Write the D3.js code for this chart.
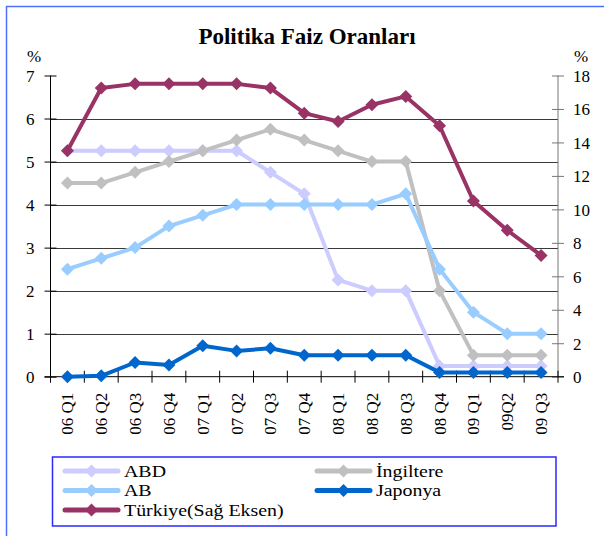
<!DOCTYPE html>
<html>
<head>
<meta charset="utf-8">
<script src="https://cdn.jsdelivr.net/npm/d3@7"></script>
</head>
<body style="margin:0;background:#fff;">
<div id="main"></div>
<script>
// categories (quarters)
var quarters = ['06 Q1', '06 Q2', '06 Q3', '06 Q4', '07 Q1', '07 Q2', '07 Q3', '07 Q4',
    '08 Q1', '08 Q2', '08 Q3', '08 Q4', '09 Q1', '09Q2', '09 Q3'];

// left axis series
var abd = [5.25, 5.25, 5.25, 5.25, 5.25, 5.25, 4.75, 4.25, 2.25, 2.0, 2.0, 0.25, 0.25, 0.25, 0.25];
var ingiltere = [4.5, 4.5, 4.75, 5.0, 5.25, 5.5, 5.75, 5.5, 5.25, 5.0, 5.0, 2.0, 0.5, 0.5, 0.5];
var ab = [2.5, 2.75, 3.0, 3.5, 3.75, 4.0, 4.0, 4.0, 4.0, 4.0, 4.25, 2.5, 1.5, 1.0, 1.0];
var japonya = [0, 0.02, 0.33, 0.27, 0.72, 0.6, 0.66, 0.5, 0.5, 0.5, 0.5, 0.1, 0.1, 0.1, 0.1];
// right axis series
var turkiye = [13.5, 17.25, 17.5, 17.5, 17.5, 17.5, 17.25, 15.75, 15.25, 16.25, 16.75, 15.0, 10.5, 8.75, 7.25];

var leftTicks = [0, 1, 2, 3, 4, 5, 6, 7];
var rightTicks = [0, 2, 4, 6, 8, 10, 12, 14, 16, 18];

var series = [
    { name: 'ABD', values: abd, color: '#ccccff', axis: 'L' },
    { name: 'İngiltere', values: ingiltere, color: '#c0c0c0', axis: 'L' },
    { name: 'AB', values: ab, color: '#99ccff', axis: 'L' },
    { name: 'Japonya', values: japonya, color: '#0066cc', axis: 'L' },
    { name: 'Türkiye(Sağ Eksen)', values: turkiye, color: '#993366', axis: 'R' }
];

var FONT = '"Liberation Serif", "Times New Roman", "DejaVu Serif", serif';
var W = 604, H = 536;
var plot = { left: 50.5, right: 558, top: 75.5, bottom: 376.7 };

var svg = d3.select('#main').append('svg')
    .attr('width', W)
    .attr('height', H)
    .style('font-family', FONT);

// outer frame (right and bottom edges fall outside the picture)
svg.append('rect')
    .attr('x', 6.5).attr('y', 6.5)
    .attr('width', 700).attr('height', 700)
    .attr('fill', 'none')
    .attr('stroke', '#4f6fff')
    .attr('stroke-width', 1.5);

var xScale = d3.scaleBand().domain(quarters).range([plot.left, plot.right]).padding(0);
var yL = d3.scaleLinear().domain([0, 7]).range([plot.bottom, plot.top]);
var yR = d3.scaleLinear().domain([0, 18]).range([plot.bottom, plot.top]);

function cx(d, i) { return xScale(quarters[i]) + xScale.bandwidth() / 2; }

function serif(sel, size) {
    sel.attr('font-family', null)
        .style('font-family', FONT)
        .style('font-size', size + 'px')
        .attr('fill', '#000');
}

// title
svg.append('text')
    .attr('x', 307).attr('y', 44)
    .attr('text-anchor', 'middle')
    .style('font-weight', 'bold')
    .text('Politika Faiz Oranları')
    .call(serif, 23);

// gridlines
svg.append('g').selectAll('line')
    .data(leftTicks.filter(function (t) { return t > 0 && t < 7; }))
    .enter().append('line')
    .attr('x1', plot.left).attr('x2', plot.right)
    .attr('y1', function (d) { return Math.round(yL(d)) + 0.5; })
    .attr('y2', function (d) { return Math.round(yL(d)) + 0.5; })
    .attr('stroke', '#3a3a3a')
    .attr('stroke-width', 1);

// left axis
var yAxisL = d3.axisLeft(yL).tickValues(leftTicks).tickFormat(d3.format('d')).tickSize(6).tickPadding(10);
var gL = svg.append('g')
    .attr('transform', 'translate(' + plot.left + ',0)')
    .call(yAxisL)
    .attr('font-family', null);
gL.selectAll('.tick line').attr('x1', -6).attr('x2', 6).attr('stroke', '#000');
gL.select('.domain').attr('d', 'M0,' + plot.top + 'V' + plot.bottom).attr('stroke', '#000');
gL.selectAll('text').call(serif, 17).attr('dy', '0.35em');

// right axis
var yAxisR = d3.axisRight(yR).tickValues(rightTicks).tickFormat(d3.format('d')).tickSize(6).tickPadding(9);
var gR = svg.append('g')
    .attr('transform', 'translate(' + plot.right + ',0)')
    .call(yAxisR)
    .attr('font-family', null);
gR.selectAll('.tick line').attr('x1', -6).attr('x2', 6).attr('stroke', '#777');
gR.select('.domain').attr('d', 'M0,' + plot.top + 'V' + plot.bottom).attr('stroke', '#777');
gR.selectAll('text').call(serif, 17).attr('dy', '0.35em');

// % labels
svg.append('text').attr('x', 34).attr('y', 62).attr('text-anchor', 'middle')
    .text('%').call(serif, 17);
svg.append('text').attr('x', 581).attr('y', 62).attr('text-anchor', 'middle')
    .text('%').call(serif, 17);

// x axis
var gX = svg.append('g').attr('transform', 'translate(0,' + plot.bottom + ')');
gX.append('line')
    .attr('x1', plot.left - 6).attr('x2', plot.right + 6)
    .attr('stroke', '#000');
var bounds = quarters.map(function (q) { return xScale(q); }).concat([plot.right]);
gX.selectAll('line.tk')
    .data(bounds)
    .enter().append('line')
    .attr('class', 'tk')
    .attr('x1', function (d) { return d; }).attr('x2', function (d) { return d; })
    .attr('y1', -6).attr('y2', 6)
    .attr('stroke', '#000');
gX.selectAll('text')
    .data(quarters)
    .enter().append('text')
    .attr('transform', function (d, i) { return 'translate(' + cx(d, i) + ',16) rotate(-90)'; })
    .attr('text-anchor', 'end')
    .attr('dy', '0.35em')
    .text(function (d) { return d; })
    .call(serif, 17);

// series
var diamond = 'M0,-6.5L6.5,0L0,6.5L-6.5,0Z';

series.forEach(function (s) {
    var y = s.axis === 'L' ? yL : yR;
    var line = d3.line()
        .x(function (d, i) { return cx(d, i); })
        .y(function (d) { return y(d); });

    var g = svg.append('g');
    g.append('path')
        .datum(s.values)
        .attr('d', line)
        .attr('fill', 'none')
        .attr('stroke', s.color)
        .attr('stroke-width', 4)
        .attr('stroke-linejoin', 'round');
    g.selectAll('path.mk')
        .data(s.values)
        .enter().append('path')
        .attr('class', 'mk')
        .attr('d', diamond)
        .attr('transform', function (d, i) { return 'translate(' + cx(d, i) + ',' + y(d) + ')'; })
        .attr('fill', s.color);
});

// legend
var legend = svg.append('g');
legend.append('rect')
    .attr('x', 52.5).attr('y', 457)
    .attr('width', 503.5).attr('height', 69)
    .attr('fill', '#fff')
    .attr('stroke', '#2a2aff')
    .attr('stroke-width', 1.5);

var legendPos = [
    { x: 63, y: 471 }, { x: 315, y: 471 },
    { x: 63, y: 490.5 }, { x: 315, y: 490.5 },
    { x: 63, y: 510 }
];

series.forEach(function (s, i) {
    var p = legendPos[i];
    var item = legend.append('g').attr('transform', 'translate(' + p.x + ',' + p.y + ')');
    item.append('line')
        .attr('x1', 2).attr('x2', 55)
        .attr('stroke', s.color)
        .attr('stroke-width', 5)
        .attr('stroke-linecap', 'round');
    item.append('path')
        .attr('d', diamond)
        .attr('transform', 'translate(28.5,0)')
        .attr('fill', s.color);
    // Excel text here looks wide and squat; widen a 17px face instead of using a taller one
    item.append('text')
        .attr('transform', 'translate(61,0) scale(1.17,1)')
        .attr('dy', '0.33em')
        .text(s.name)
        .call(serif, 17);
});
</script>
</body>
</html>
